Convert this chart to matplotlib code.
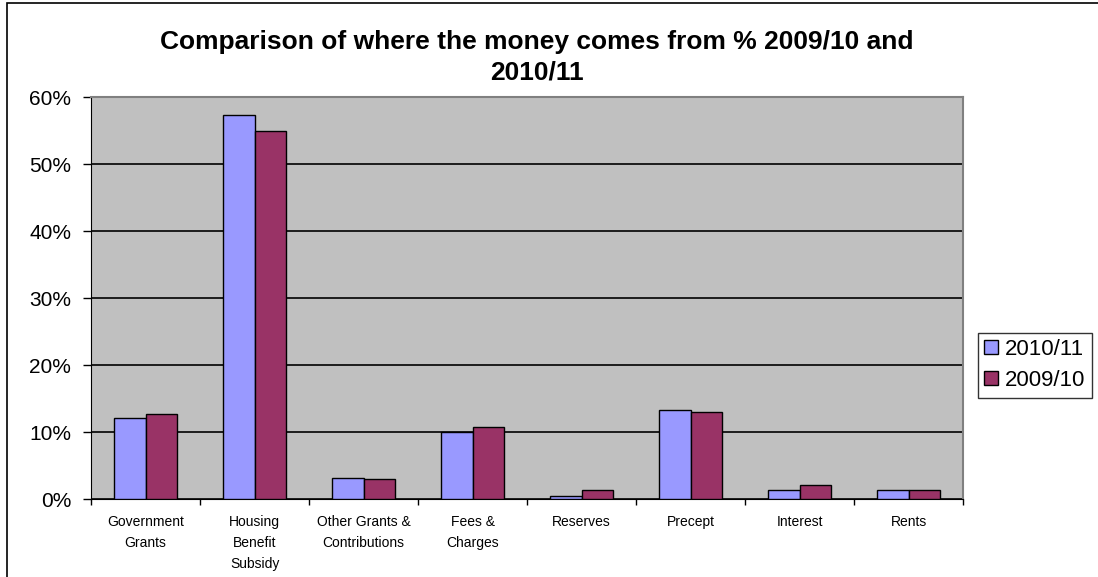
import matplotlib
matplotlib.use("Agg")
import matplotlib.pyplot as plt
import matplotlib.patches as patches
from matplotlib.ticker import FuncFormatter, FixedLocator
import numpy as np

categories = ["Government\nGrants", "Housing\nBenefit\nSubsidy", "Other Grants &\nContributions",
              "Fees &\nCharges", "Reserves", "Precept", "Interest", "Rents"]
y2010_11 = [12.2, 57.3, 3.2, 10.1, 0.5, 13.3, 1.4, 1.4]
y2009_10 = [12.7, 55.0, 3.0, 10.8, 1.4, 13.1, 2.2, 1.4]
series_labels = ["2010/11", "2009/10"]

plt.rcParams['font.family'] = ['Liberation Sans', 'DejaVu Sans']

fig = plt.figure(figsize=(10.98, 5.77), dpi=100)
ax = fig.add_axes([0.0829, 0.1347, 0.7942, 0.6967])

index = np.arange(len(categories))
width = 0.29

ax.set_axisbelow(True)
ax.bar(index - width / 2, y2010_11, width, color='#9999FF', edgecolor='black', linewidth=1, label=series_labels[0], zorder=3)
ax.bar(index + width / 2, y2009_10, width, color='#993366', edgecolor='black', linewidth=1, label=series_labels[1], zorder=3)

ax.set_facecolor('#C0C0C0')
ax.set_xlim(-0.5, len(categories) - 0.5)
ax.set_ylim(0, 60)
ax.set_yticks(np.arange(0, 61, 10))
ax.yaxis.set_major_formatter(FuncFormatter(lambda v, p: '%d%%' % v))
ax.yaxis.grid(True, color='black', linewidth=1.2)
ax.tick_params(axis='y', labelsize=15, length=5.8, width=1, direction='out', pad=8.6)

ax.set_xticks(index)
ax.set_xticklabels(categories, fontsize=10, linespacing=1.65)
ax.tick_params(axis='x', which='major', length=0, pad=11)
ax.xaxis.set_minor_locator(FixedLocator(np.arange(-0.5, len(categories), 1.0)))
ax.tick_params(axis='x', which='minor', length=4, width=1, direction='out')

for side in ['top', 'right']:
    ax.spines[side].set_color('#808080')
    ax.spines[side].set_linewidth(1.5)
ax.spines['left'].set_color('black')
ax.spines['bottom'].set_color('black')

fig.text(0.489, 0.901, "Comparison of where the money comes from % 2009/10 and\n2010/11",
         ha='center', va='center', fontsize=19, fontweight='bold', linespacing=1.35)

leg = fig.legend(loc='center', bbox_to_anchor=(0.9426, 0.367), fontsize=16, frameon=True,
                 fancybox=False, edgecolor='black', handlelength=0.6, handleheight=0.6,
                 handletextpad=0.35, borderpad=0.3, labelspacing=0.45, borderaxespad=0)
leg.get_frame().set_linewidth(1)

fig.patches.append(patches.Rectangle((7 / 1098, -0.01), 1.02, 1.01 - 3 / 577, transform=fig.transFigure,
                                     fill=False, edgecolor='black', linewidth=1.2))

plt.savefig('out.png', dpi=100)
